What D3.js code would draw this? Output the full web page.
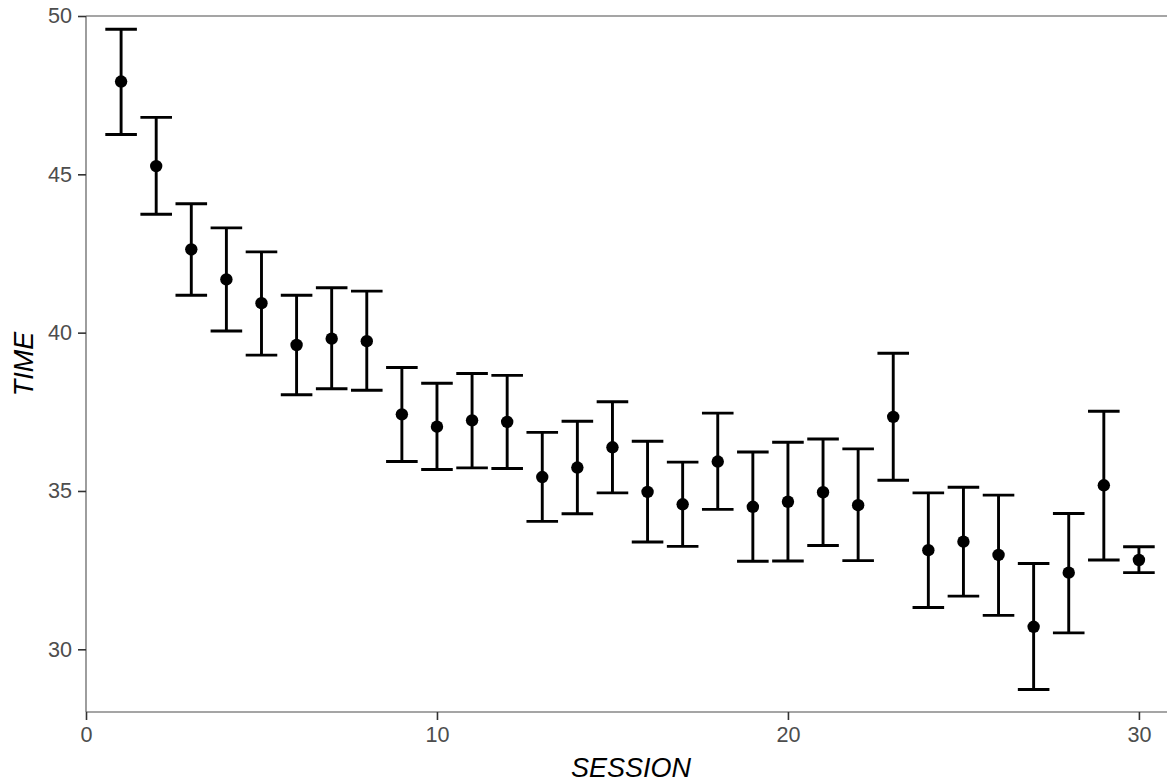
<!DOCTYPE html>
<html>
<head>
<meta charset="utf-8">
<script src="https://cdn.jsdelivr.net/npm/d3@7"></script>
<style>
  body { margin: 0; background: #fff; }
  svg { display: block; font-family: "Liberation Sans", Arial, Helvetica, sans-serif; }
</style>
</head>
<body>
<svg id="chart" width="1167" height="782"></svg>
<script>
// session means and error bar ends
sessions = d3.range(1, 31);
means = [47.93, 45.26, 42.63, 41.68, 40.93, 39.61, 39.81, 39.73, 37.42, 37.03,
         37.23, 37.18, 35.44, 35.74, 36.38, 34.97, 34.58, 35.93, 34.50, 34.66,
         34.96, 34.55, 37.34, 33.13, 33.40, 32.98, 30.71, 32.42, 35.18, 32.82];
uppers = [49.58, 46.80, 44.07, 43.31, 42.55, 41.18, 41.42, 41.31, 38.90, 38.40,
          38.71, 38.65, 36.85, 37.20, 37.82, 36.57, 35.91, 37.46, 36.23, 36.54,
          36.64, 36.33, 39.35, 34.94, 35.12, 34.87, 32.71, 34.29, 37.52, 33.24];
lowers = [46.26, 43.74, 41.18, 40.05, 39.29, 38.04, 38.23, 38.18, 35.93, 35.68,
          35.73, 35.71, 34.04, 34.28, 34.94, 33.39, 33.25, 34.42, 32.78, 32.79,
          33.28, 32.80, 35.34, 31.32, 31.68, 31.07, 28.73, 30.52, 32.82, 32.42];
xTicks = [0, 10, 20, 30];
yTicks = [30, 35, 40, 45, 50];

// panel edges (window.top is read-only, so use own names)
panelLeft = 86; panelRight = 1167; panelTop = 16; panelBottom = 712;

data = sessions.map((s, i) => ({s: s, m: means[i], hi: uppers[i], lo: lowers[i]}));

svg = d3.select('#chart');

x = d3.scaleLinear().domain([0, 30.8]).range([panelLeft, panelRight]);
y = d3.scaleLinear().domain([28.02, 50]).range([panelBottom, panelTop]);

capHalf = (x(0.9) - x(0)) / 2;

// axes
xAxis = svg.append('g')
	.attr('transform', `translate(0,${panelBottom})`)
	.call(d3.axisBottom(x).tickValues(xTicks).tickSize(8).tickPadding(7).tickFormat(d3.format('d')));
yAxis = svg.append('g')
	.attr('transform', `translate(${panelLeft},0)`)
	.call(d3.axisLeft(y).tickValues(yTicks).tickSize(8).tickPadding(6).tickFormat(d3.format('d')));

[xAxis, yAxis].forEach(function(g){
	g.attr('font-family', null).attr('font-size', null);
	g.select('.domain').attr('stroke', '#4d4d4d').attr('stroke-width', 1.1);
	g.selectAll('.tick line').attr('stroke', '#333').attr('stroke-width', 1.6);
	g.selectAll('.tick text').attr('fill', '#4d4d4d').style('font-size', '21.6px');
});
xAxis.select('.domain').attr('d', `M${panelLeft},0H${panelRight}`);
yAxis.select('.domain').attr('d', `M0,${panelBottom}V${panelTop}`);

// line along the top edge
svg.append('line')
	.attr('x1', panelLeft).attr('x2', panelRight)
	.attr('y1', panelTop).attr('y2', panelTop)
	.attr('stroke', '#4d4d4d').attr('stroke-width', 1.1);

// error bars
bars = svg.append('g').attr('stroke', '#000').attr('stroke-width', 2.9).attr('fill', 'none');
bars.selectAll('path').data(data).enter().append('path')
	.attr('d', d => `M${x(d.s)-capHalf},${y(d.hi)}H${x(d.s)+capHalf}` +
	                `M${x(d.s)},${y(d.hi)}V${y(d.lo)}` +
	                `M${x(d.s)-capHalf},${y(d.lo)}H${x(d.s)+capHalf}`);

// points
svg.append('g').selectAll('circle').data(data).enter().append('circle')
	.attr('cx', d => x(d.s))
	.attr('cy', d => y(d.m))
	.attr('r', 6.2)
	.attr('fill', '#000');

// axis titles
svg.append('text')
	.attr('x', 631).attr('y', 777)
	.attr('text-anchor', 'middle')
	.style('font-size', '27px').style('font-style', 'italic')
	.text('SESSION');
svg.append('text')
	.attr('transform', `translate(33,${(panelTop + panelBottom) / 2}) rotate(-90)`)
	.attr('text-anchor', 'middle')
	.style('font-size', '27px').style('font-style', 'italic')
	.text('TIME');
</script>
</body>
</html>
